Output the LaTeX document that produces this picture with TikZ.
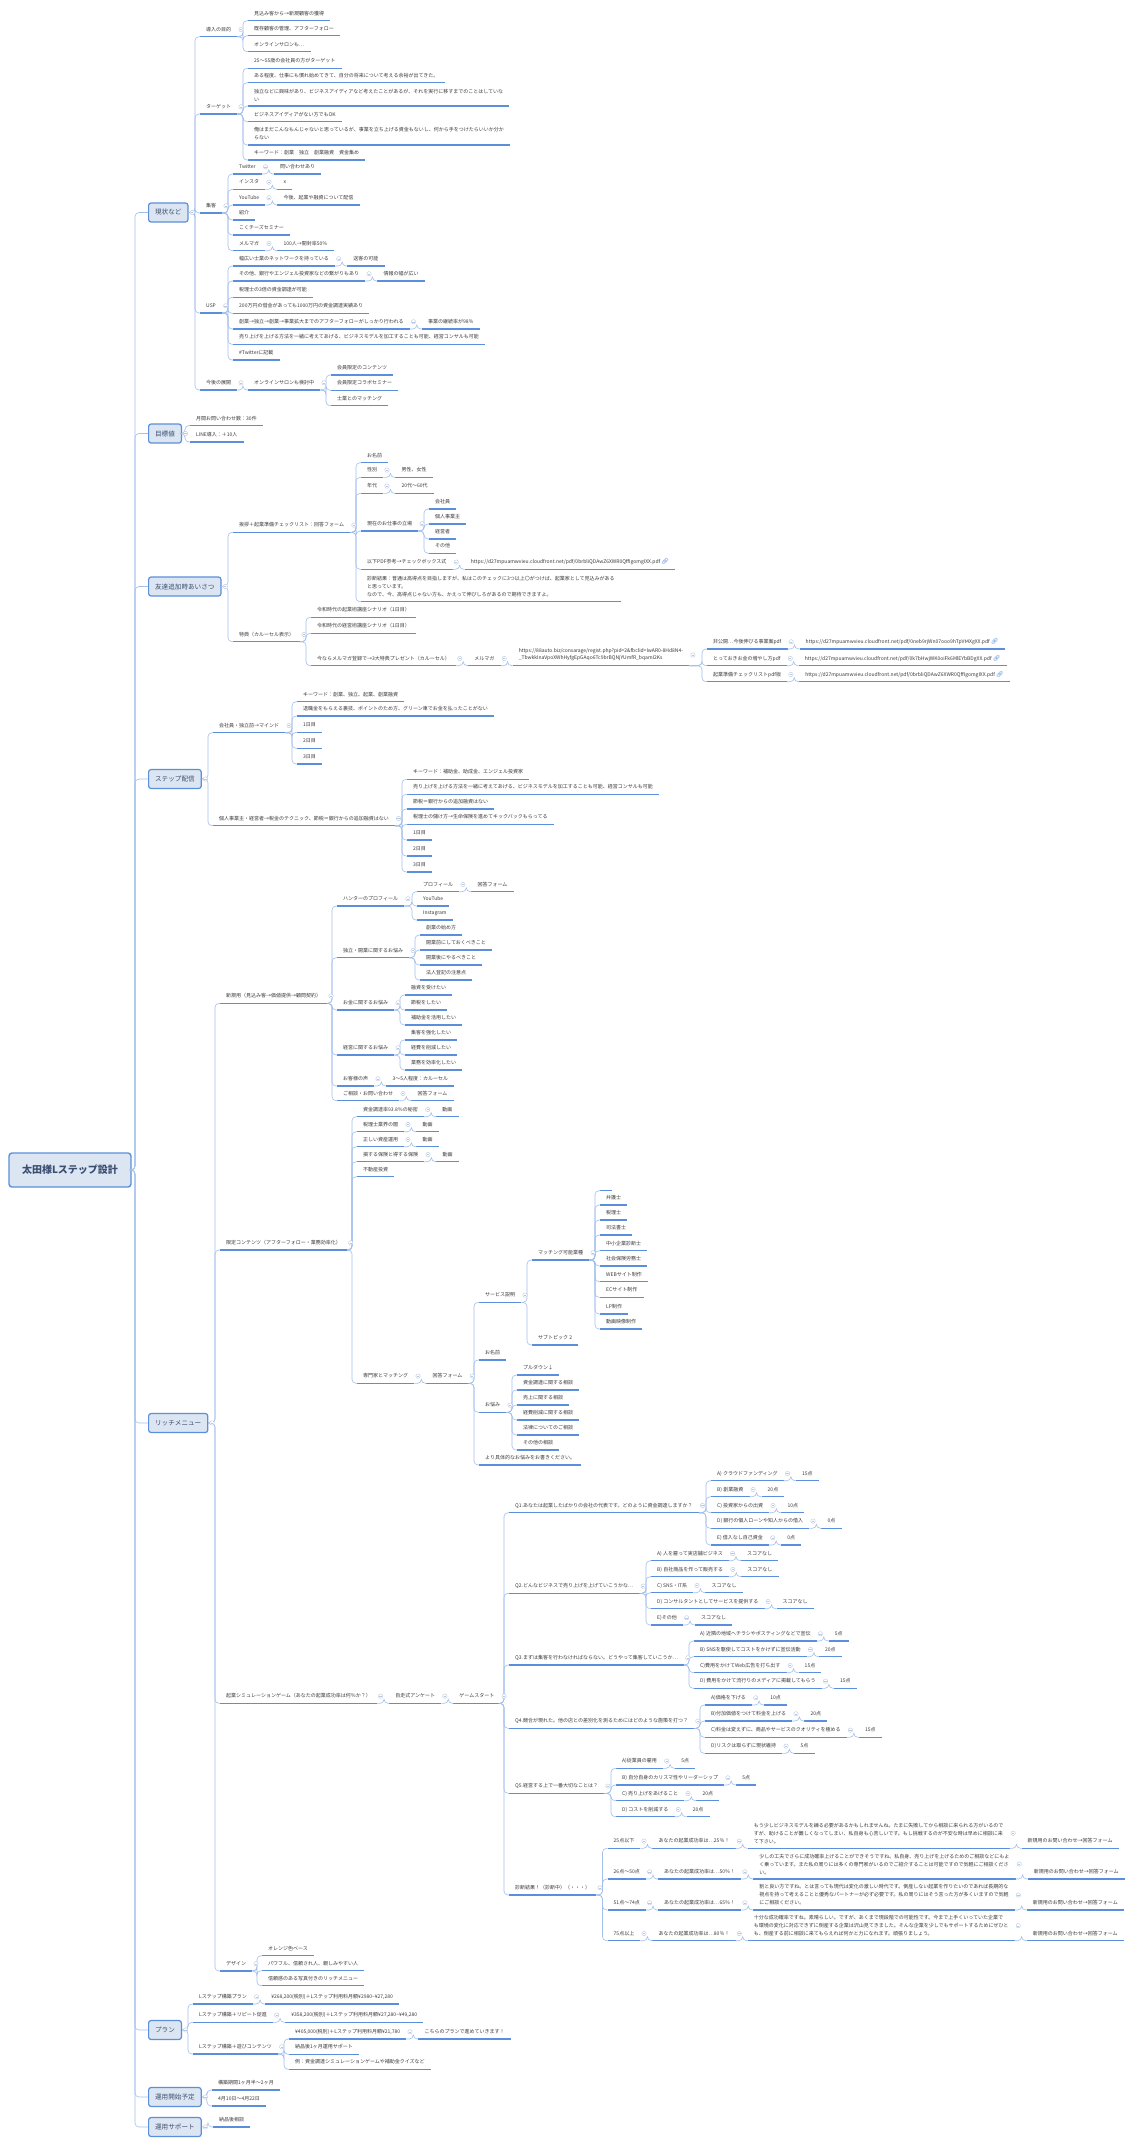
\documentclass[tikz,border=0pt]{standalone}
\usepackage{fontspec}
\setmainfont{Noto Sans CJK JP}
\newfontfamily\emojifont{Noto Emoji}

\definecolor{lineblue}{HTML}{5B8FDB}
\definecolor{connblue}{HTML}{A3C0EC}
\definecolor{boxfill}{HTML}{DCE6F3}
\definecolor{boxline}{HTML}{5B8FDB}
\definecolor{boxtxt}{HTML}{3C4E70}
\definecolor{txtgray}{HTML}{3A3A3A}
\definecolor{foldgray}{HTML}{B9C8E2}
\definecolor{linkblue}{HTML}{4A86E0}

\tikzset{
  rootbox/.style={draw=boxline, line width=1.4pt, fill=boxfill, rounded corners=3pt,
    minimum width=122pt, minimum height=34pt, font=\fontsize{10}{12}\selectfont\bfseries, text=boxtxt},
  mainbox/.style={draw=boxline, line width=1.2pt, fill=boxfill, rounded corners=2.5pt, anchor=west,
    minimum height=19pt, inner xsep=6.5pt, font=\fontsize{6.6}{8}\selectfont, text=boxtxt},
  underl/.style={draw=lineblue, line width=1.1pt},
  topic/.style={anchor=south west, inner xsep=6pt, inner ysep=4.5pt, text height=4.3pt, text depth=0.7pt,
    font=\fontsize{5}{8}\selectfont, text=txtgray,
    append after command={(\tikzlastnode.south west) edge[underl] (\tikzlastnode.south east)}},
  mtopic/.style={topic, text height=, text depth=, align=left},
  conn/.style={draw=connblue, line width=0.6pt, rounded corners=4pt},
  foldmark/.style={circle, draw=foldgray, fill=white, line width=0.4pt, minimum size=4.4pt, inner sep=0pt,
    path picture={\draw[foldgray, line width=0.4pt] ([xshift=-1.2pt]path picture bounding box.center)
      -- ([xshift=1.2pt]path picture bounding box.center);}},
}
% connector: parent anchor -> child anchor, spine #1pt before the child
\newcommand{\conn}[3][5]{\draw[conn] (#2) -| ([xshift=-#1pt]#3) -- (#3);}
\newcommand{\fold}[1]{\node[foldmark] (#1f) at ([xshift=3.6pt]#1.east) {};}
\newcommand{\linkicon}{{\emojifont\fontsize{6}{6}\selectfont\textcolor{linkblue}{\char"1F517}}}

\begin{document}
\begin{tikzpicture}[x=1pt,y=-1pt]
\fill[white] (0,0) rectangle (1131,2145);
\useasboundingbox (0,0) rectangle (1131,2145);

% root and main branches
\node[rootbox] (root) at (70,1170) {太田様Lステップ設計};
\node[mainbox] (m1) at (148,212.5) {現状など};
\node[mainbox] (m2) at (148,433.5) {目標値};
\node[mainbox] (m3) at (148,586.5) {友達追加時あいさつ};
\node[mainbox] (m4) at (148,779) {ステップ配信};
\node[mainbox] (m5) at (148,1423) {リッチメニュー};
\node[mainbox] (m6) at (148,2030) {プラン};
\node[mainbox] (m7) at (148,2097) {運用開始予定};
\node[mainbox] (m8) at (148,2127) {運用サポート};

% 現状など
\node[topic] (a1) at (200,36.7) {導入の目的};
\node[topic] (a2) at (200,114) {ターゲット};
\node[topic] (a3) at (200,213) {集客};
\node[topic] (a4) at (200,313) {USP};
\node[topic] (a5) at (200,390) {今後の展開};
\node[topic] (a11) at (248,20.7) {見込み客から→新規顧客の獲得};
\node[topic] (a12) at (248,35.7) {既存顧客の管理、アフターフォロー};
\node[topic] (a13) at (248,51.7) {オンラインサロンも…};
\node[topic] (a21) at (248,68.3) {25〜55歳の会社員の方がターゲット};
\node[topic] (a22) at (248,82.7) {ある程度、仕事にも慣れ始めてきて、自分の将来について考える余裕が出てきた。};
\node[mtopic] (a23) at (248,106) {独立などに興味があり、ビジネスアイディアなど考えたことがあるが、それを実行に移すまでのことはしていな\\い};
\node[topic] (a24) at (248,121.7) {ビジネスアイディアがない方でもOK};
\node[mtopic] (a25) at (248,145) {俺はまだこんなもんじゃないと思っているが、事業を立ち上げる資金もないし、何から手をつけたらいいか分か\\らない};
\node[topic] (a26) at (248,160) {キーワード：創業　独立　創業融資　資金集め};
\node[topic] (a31) at (233,174) {Twitter};
\node[topic] (a31c) at ([xshift=12pt]a31.south east) {問い合わせあり};
\node[topic] (a32) at (233,189.3) {インスタ};
\node[topic] (a32c) at ([xshift=12pt]a32.south east) {x};
\node[topic] (a33) at (233,205) {YouTube};
\node[topic] (a33c) at ([xshift=12pt]a33.south east) {今後、起業や融資について配信};
\node[topic] (a34) at (233,220) {紹介};
\node[topic] (a35) at (233,235) {こくチーズセミナー};
\node[topic] (a36) at (233,250.7) {メルマガ};
\node[topic] (a36c) at ([xshift=12pt]a36.south east) {100人→開封率50％};
\node[topic] (a41) at (233,266) {幅広い士業のネットワークを持っている};
\node[topic] (a41c) at ([xshift=12pt]a41.south east) {送客の可能};
\node[topic] (a42) at (233,281) {その他、銀行やエンジェル投資家などの繋がりもあり};
\node[topic] (a42c) at ([xshift=12pt]a42.south east) {情報の幅が広い};
\node[topic] (a43) at (233,297.3) {税理士の3倍の資金調達が可能};
\node[topic] (a44) at (233,313.3) {200万円の借金があっても1000万円の資金調達実績あり};
\node[topic] (a45) at (233,329) {創業→独立→創業→事業拡大までのアフターフォローがしっかり行われる};
\node[topic] (a45c) at ([xshift=12pt]a45.south east) {事業の継続率が98％};
\node[topic] (a46) at (233,344.3) {売り上げを上げる方法を一緒に考えてあげる、ビジネスモデルを加工することも可能、経営コンサルも可能};
\node[topic] (a47) at (233,360) {\#Twitterに記載};
\node[topic] (a51) at (248,390) {オンラインサロンも検討中};
\node[topic] (a511) at (331,375) {会員限定のコンテンツ};
\node[topic] (a512) at (331,390.3) {会員限定コラボセミナー};
\node[topic] (a513) at (331,405.7) {士業とのマッチング};

% 目標値
\node[topic] (b1) at (190,425.5) {月間お問い合わせ数：30件};
\node[topic] (b2) at (190,442) {LINE導入：＋10人};

% 友達追加時あいさつ
\node[topic] (c1) at (233,532.3) {挨拶＋起業準備チェックリスト：回答フォーム};
\node[topic] (c2) at (233,641.7) {特典（カルーセル表示）};
\node[topic] (c11) at (361,462.7) {お名前};
\node[topic] (c12) at (361,477.3) {性別};
\node[topic] (c12c) at ([xshift=12pt]c12.south east) {男性、女性};
\node[topic] (c13) at (361,493.3) {年代};
\node[topic] (c13c) at ([xshift=12pt]c13.south east) {20代〜60代};
\node[topic] (c14) at (361,531) {現在のお仕事の立場};
\node[topic] (c141) at (429,509) {会社員};
\node[topic] (c142) at (429,524) {個人事業主};
\node[topic] (c143) at (429,539) {経営者};
\node[topic] (c144) at (429,553.3) {その他};
\node[topic] (c15) at (361,569.3) {以下PDF参考→チェックボックス式};
\node[topic] (c15c) at ([xshift=12pt]c15.south east) {https://d27mpuamwvieu.cloudfront.net/pdf/0brbliQDAwZ6XWR0QffIgomgIXX.pdf\ \linkicon};
\node[mtopic] (c16) at (361,601.7) {診断結果：普通は高得点を目指しますが、私はこのチェックに3つ以上〇がつけば、起業家として見込みがある\\と思っています。\\なので、今、高得点じゃない方も、かえって伸びしろがあるので期待できますよ。};
\node[topic] (c21) at (311,617.3) {令和時代の起業術講座シナリオ（1日目）};
\node[topic] (c22) at (311,633.3) {令和時代の経営術講座シナリオ（1日目）};
\node[topic] (c23) at (311,665.7) {今ならメルマガ登録で→3大特典プレゼント（カルーセル）};
\node[topic] (c23c) at ([xshift=12pt]c23.south east) {メルマガ};
\node[mtopic, font=\fontsize{5}{6.8}\selectfont] (c23u) at ([xshift=12pt]c23c.south east) {https://88auto.biz/consarage/regist.php?pid=2\&fbclid=IwAR0-8Hd8N4-\\\_TbwkkInaVpoXWhHyfgEpGAqo6Tc9brBQNjYUmfR\_bqamI2Ks};
\node[topic] (c231) at (707,649) {非公開…今後伸びる事業案pdf};
\node[topic] (c231c) at ([xshift=12pt]c231.south east) {https://d27mpuamwvieu.cloudfront.net/pdf/0neb9rjWn07ooo9hTpVt4XgXX.pdf\ \linkicon};
\node[topic] (c232) at (707,665.7) {とっておきお金の増やし方pdf};
\node[topic] (c232c) at ([xshift=12pt]c232.south east) {https://d27mpuamwvieu.cloudfront.net/pdf/0k7bHwjWK0oiFk6MlEYbBDgXX.pdf\ \linkicon};
\node[topic] (c233) at (707,681.7) {起業準備チェックリストpdf版};
\node[topic] (c233c) at ([xshift=12pt]c233.south east) {https://d27mpuamwvieu.cloudfront.net/pdf/0brbliQDAwZ6XWR0QffIgomgIXX.pdf\ \linkicon};

% ステップ配信
\node[topic] (d1) at (213,732.7) {会社員・独立前→マインド};
\node[topic] (d2) at (213,825.7) {個人事業主・経営者→税金のテクニック、節税＝銀行からの追加融資はない};
\node[topic] (d11) at (297,701.7) {キーワード：創業、独立、起業、創業融資};
\node[topic] (d12) at (297,716) {退職金をもらえる裏技、ポイントのため方、グリーン車でお金を払ったことがない};
\node[topic] (d13) at (297,732.3) {1日目};
\node[topic] (d14) at (297,748.3) {2日目};
\node[topic] (d15) at (297,764) {3日目};
\node[topic] (d21) at (407,779.3) {キーワード：補助金、助成金、エンジェル投資家};
\node[topic] (d22) at (407,794.3) {売り上げを上げる方法を一緒に考えてあげる、ビジネスモデルを加工することも可能、経営コンサルも可能};
\node[topic] (d23) at (407,809) {節税＝銀行からの追加融資はない};
\node[topic] (d24) at (407,824.3) {税理士の儲け方→生命保険を進めてキックバックもらってる};
\node[topic] (d25) at (407,840) {1日目};
\node[topic] (d26) at (407,856) {2日目};
\node[topic] (d27) at (407,872) {3日目};

% リッチメニュー
\node[topic] (e1) at (220,1003.3) {新規用（見込み客→価値提供→顧問契約）};
\node[topic] (e2) at (220,1250) {限定コンテンツ（アフターフォロー・業務効率化）};
\node[topic] (e3) at (220,1703.3) {起業シミュレーションゲーム（あなたの起業成功率は何％か？）};
\node[topic] (e4) at (220,1971) {デザイン};
\node[topic] (e11) at (337,906) {ハンターのプロフィール};
\node[topic] (e111) at (417,891.7) {プロフィール};
\node[topic] (e111c) at ([xshift=12pt]e111.south east) {回答フォーム};
\node[topic] (e112) at (417,906) {YouTube};
\node[topic] (e113) at (417,920) {Instagram};
\node[topic] (e12) at (337,957.7) {独立・開業に関するお悩み};
\node[topic] (e121) at (420,935) {創業の始め方};
\node[topic] (e122) at (420,950) {開業前にしておくべきこと};
\node[topic] (e123) at (420,965) {開業後にやるべきこと};
\node[topic] (e124) at (420,980) {法人登記の注意点};
\node[topic] (e13) at (337,1010) {お金に関するお悩み};
\node[topic] (e131) at (405,995) {融資を受けたい};
\node[topic] (e132) at (405,1010) {節税をしたい};
\node[topic] (e133) at (405,1025) {補助金を活用したい};
\node[topic] (e14) at (337,1055) {経営に関するお悩み};
\node[topic] (e141) at (405,1040) {集客を強化したい};
\node[topic] (e142) at (405,1055) {経費を削減したい};
\node[topic] (e143) at (405,1070) {業務を効率化したい};
\node[topic] (e15) at (337,1086) {お客様の声};
\node[topic] (e15c) at ([xshift=12pt]e15.south east) {3〜5人程度：カルーセル};
\node[topic] (e16) at (337,1100.7) {ご相談・お問い合わせ};
\node[topic] (e16c) at ([xshift=12pt]e16.south east) {回答フォーム};
\node[topic] (e21) at (357,1116.7) {資金調達率93.8％の秘密};
\node[topic] (e21c) at ([xshift=12pt]e21.south east) {動画};
\node[topic] (e22) at (357,1131.7) {税理士業界の闇};
\node[topic] (e22c) at ([xshift=12pt]e22.south east) {動画};
\node[topic] (e23) at (357,1146.7) {正しい資産運用};
\node[topic] (e23c) at ([xshift=12pt]e23.south east) {動画};
\node[topic] (e24) at (357,1161.7) {損する保険と得する保険};
\node[topic] (e24c) at ([xshift=12pt]e24.south east) {動画};
\node[topic] (e25) at (357,1176.7) {不動産投資};
\node[topic] (e26) at (357,1383.3) {専門家とマッチング};
\node[topic] (e26c) at ([xshift=12pt]e26.south east) {回答フォーム};
\node[topic] (e261) at (479,1302.3) {サービス説明};
\node[topic] (e2611) at (532,1260) {マッチング可能業種};
\node[topic] (z0) at (600,1190.7) {};
\node[topic] (z1) at (600,1205) {弁護士};
\node[topic] (z2) at (600,1220) {税理士};
\node[topic] (z3) at (600,1235) {司法書士};
\node[topic] (z4) at (600,1250.7) {中小企業診断士};
\node[topic] (z5) at (600,1266) {社会保険労務士};
\node[topic] (z6) at (600,1281.7) {WEBサイト制作};
\node[topic] (z7) at (600,1297.3) {ECサイト制作};
\node[topic] (z8) at (600,1314) {LP制作};
\node[topic] (z9) at (600,1329) {動画映像制作};
\node[topic] (e2612) at (532,1345) {サブトピック 2};
\node[topic] (e262) at (479,1360) {お名前};
\node[topic] (e263) at (479,1412.3) {お悩み};
\node[topic] (p1) at (517,1375) {プルダウン↓};
\node[topic] (p2) at (517,1390) {資金調達に関する相談};
\node[topic] (p3) at (517,1405) {売上に関する相談};
\node[topic] (p4) at (517,1420) {経費削減に関する相談};
\node[topic] (p5) at (517,1435) {法律についてのご相談};
\node[topic] (p6) at (517,1450) {その他の相談};
\node[topic] (e264) at (479,1465) {より具体的なお悩みをお書きください。};

% 起業シミュレーションゲーム
\node[topic] (e31) at ([xshift=12pt]e3.south east) {自走式アンケート};
\node[topic] (e32) at ([xshift=12pt]e31.south east) {ゲームスタート};
\node[topic] (q1) at (509,1512.7) {Q1.あなたは起業したばかりの会社の代表です。どのように資金調達しますか？};
\node[topic] (q2) at (509,1593.3) {Q2.どんなビジネスで売り上げを上げていこうかな…};
\node[topic] (q3) at (509,1665) {Q3.まずは集客を行わなければならない。どうやって集客していこうか…};
\node[topic] (q4) at (509,1728.3) {Q4.競合が現れた。他の店との差別化を測るためにはどのような施策を打つ？};
\node[topic] (q5) at (509,1793.3) {Q5.経営する上で一番大切なことは？};
\node[topic] (q6) at (509,1895) {診断結果！（診断中）（・・・）};
\node[topic] (q1a) at (711,1480.7) {A) クラウドファンディング};
\node[topic] (q1b) at (711,1496.7) {B) 創業融資};
\node[topic] (q1c) at (711,1512.7) {C) 投資家からの出資};
\node[topic] (q1d) at (711,1528.3) {D) 銀行の個人ローンや知人からの借入};
\node[topic] (q1e) at (711,1545) {E) 借入なし自己資金};
\node[topic] (q2a) at (651,1560.7) {A) 人を雇って実店舗ビジネス};
\node[topic] (q2b) at (651,1576.7) {B) 自社商品を作って販売する};
\node[topic] (q2c) at (651,1592.7) {C) SNS・IT系};
\node[topic] (q2d) at (651,1608.7) {D) コンサルタントとしてサービスを提供する};
\node[topic] (q2e) at (651,1625) {E)その他};
\node[topic] (q3a) at (694,1641) {A) 近隣の地域へチラシやポスティングなどで宣伝};
\node[topic] (q3b) at (694,1656.7) {B) SNSを駆使してコストをかけずに宣伝活動};
\node[topic] (q3c) at (694,1672.7) {C)費用をかけてWeb広告を打ち出す};
\node[topic] (q3d) at (694,1688.3) {D) 費用をかけて流行りのメディアに掲載してもらう};
\node[topic] (q4a) at (705,1705) {A)価格を下げる};
\node[topic] (q4b) at (705,1721) {B)付加価値をつけて料金を上げる};
\node[topic] (q4c) at (705,1737.3) {C)料金は変えずに、商品やサービスのクオリティを極める};
\node[topic] (q4d) at (705,1753.3) {D)リスクは取らずに現状維持};
\node[topic] (q5a) at (616,1768.3) {A)従業員の雇用};
\node[topic] (q5b) at (616,1785) {B) 自分自身のカリスマ性やリーダーシップ};
\node[topic] (q5c) at (616,1800.7) {C) 売り上げをあげること};
\node[topic] (q5d) at (616,1816.7) {D) コストを削減する};
\foreach \n/\s in {q1a/15点,q1b/20点,q1c/10点,q1d/0点,q1e/0点,
    q2a/スコアなし,q2b/スコアなし,q2c/スコアなし,q2d/スコアなし,q2e/スコアなし,
    q3a/5点,q3b/20点,q3c/15点,q3d/15点,q4a/10点,q4b/20点,q4c/15点,q4d/5点,
    q5a/5点,q5b/5点,q5c/20点,q5d/20点}
  \node[topic] (\n c) at ([xshift=12pt]\n.south east) {\s};
\node[topic] (r1) at (607.5,1848.3) {25点以下};
\node[topic] (r2) at (607.5,1879) {26点〜50点};
\node[topic] (r3) at (607.5,1910) {51点〜74点};
\node[topic] (r4) at (607.5,1940.7) {75点以上};
\node[topic] (r1t) at ([xshift=12pt]r1.south east) {あなたの起業成功率は…25％！};
\node[topic] (r2t) at ([xshift=12pt]r2.south east) {あなたの起業成功率は…50％！};
\node[topic] (r3t) at ([xshift=12pt]r3.south east) {あなたの起業成功率は…65％！};
\node[topic] (r4t) at ([xshift=12pt]r4.south east) {あなたの起業成功率は…80％！};
\node[mtopic] (r1d) at ([xshift=12pt]r1t.south east) {もう少しビジネスモデルを練る必要があるかもしれませんね。たまに失敗してから相談に来られる方がいるので\\すが、助けることが難しくなってしまい、私自身も心苦しいです。もし挑戦するのが不安な時は早めに相談に来\\て下さい。};
\node[mtopic] (r2d) at ([xshift=12pt]r2t.south east) {少しの工夫でさらに成功確率上げることができそうですね。私自身、売り上げを上げるためのご相談などにもよ\\く乗っています。また私の周りには多くの専門家がいるのでご紹介することは可能ですので気軽にご相談くださ\\い。};
\node[mtopic] (r3d) at ([xshift=12pt]r3t.south east) {割と良い方ですね。とは言っても現代は変化の激しい時代です。倒産しない起業を作りたいのであれば長期的な\\視点を持って考えることと優秀なパートナーが必ず必要です。私の周りにはそう言った方が多くいますので気軽\\にご相談ください。};
\node[mtopic] (r4d) at ([xshift=12pt]r4t.south east) {十分な成功確率ですね。素晴らしい。ですが、あくまで現段階での可能性です。今まで上手くいっていた企業で\\も環境の変化に対応できずに倒産する企業は沢山見てきました。そんな企業を少しでもサポートするためにぜひと\\も、倒産する前に相談に来てもらえれば何かと力になれます。頑張りましょう。};
\foreach \n in {r1,r2,r3,r4}
  \node[topic] (\n f) at ([xshift=12pt]\n d.south east) {新規用のお問い合わせ→回答フォーム};

% デザイン
\node[topic] (f1) at (262,1955.7) {オレンジ色ベース};
\node[topic] (f2) at (262,1970.7) {パワフル、信頼され人、親しみやすい人};
\node[topic] (f3) at (262,1985.7) {信頼感のある写真付きのリッチメニュー};

% プラン
\node[topic] (g1) at (193,2004) {Lステップ構築プラン};
\node[topic] (g1c) at ([xshift=12pt]g1.south east) {¥268,200(税別)＋Lステップ利用料月額¥2980\textasciitilde¥27,280};
\node[topic] (g2) at (193,2022.3) {Lステップ構築＋リピート促進};
\node[topic] (g2c) at ([xshift=12pt]g2.south east) {¥358,200(税別)＋Lステップ利用料月額¥27,280\textasciitilde¥49,280};
\node[topic] (g3) at (193,2054) {Lステップ構築＋遊びコンテンツ};
\node[topic] (g31) at (289,2039) {¥405,000(税別)＋Lステップ利用料月額¥21,780};
\node[topic] (g31c) at ([xshift=12pt]g31.south east) {こちらのプランで進めていきます！};
\node[topic] (g32) at (289,2054.3) {納品後1ヶ月運用サポート};
\node[topic] (g33) at (289,2069.3) {例：資金調達シミュレーションゲームや補助金クイズなど};

% 運用開始予定 / 運用サポート
\node[topic] (h1) at (212,2090) {構築期間1ヶ月半〜2ヶ月};
\node[topic] (h2) at (212,2106) {4月10日〜4月22日};
\node[topic] (i1) at (213,2127) {納品後相談};

% connectors
\foreach \m in {m1,m2,m3,m4,m5,m6,m7,m8} {\conn[13]{root.east}{\m.west}}
\foreach \c in {a1,a2,a3,a4,a5} {\conn{m1.east}{\c.south west}}
\foreach \c in {a11,a12,a13} {\conn{a1.south east}{\c.south west}}
\foreach \c in {a21,a22,a23,a24,a25,a26} {\conn{a2.south east}{\c.south west}}
\foreach \c in {a31,a32,a33,a34,a35,a36} {\conn{a3.south east}{\c.south west}}
\foreach \c in {a41,a42,a43,a44,a45,a46,a47} {\conn{a4.south east}{\c.south west}}
\foreach \c in {a511,a512,a513} {\conn{a51.south east}{\c.south west}}
\foreach \p in {a31,a32,a33,a36,a41,a42,a45,c12,c13,c15,c231,c232,c233,e111,e15,e16,e21,e22,e23,e24,g1,g2,g31}
  {\conn{\p.south east}{\p c.south west}}
\conn{a5.south east}{a51.south west}
\foreach \c in {b1,b2} {\conn{m2.east}{\c.south west}}
\foreach \c in {c1,c2} {\conn{m3.east}{\c.south west}}
\foreach \c in {c11,c12,c13,c14,c15,c16} {\conn{c1.south east}{\c.south west}}
\foreach \c in {c141,c142,c143,c144} {\conn{c14.south east}{\c.south west}}
\foreach \c in {c21,c22,c23} {\conn{c2.south east}{\c.south west}}
\conn{c23.south east}{c23c.south west}
\conn{c23c.south east}{c23u.south west}
\foreach \c in {c231,c232,c233} {\conn{c23u.south east}{\c.south west}}
\foreach \c in {d1,d2} {\conn{m4.east}{\c.south west}}
\foreach \c in {d11,d12,d13,d14,d15} {\conn{d1.south east}{\c.south west}}
\foreach \c in {d21,d22,d23,d24,d25,d26,d27} {\conn{d2.south east}{\c.south west}}
\foreach \c in {e1,e2,e3,e4} {\conn{m5.east}{\c.south west}}
\foreach \c in {e11,e12,e13,e14,e15,e16} {\conn{e1.south east}{\c.south west}}
\foreach \c in {e111,e112,e113} {\conn{e11.south east}{\c.south west}}
\foreach \c in {e121,e122,e123,e124} {\conn{e12.south east}{\c.south west}}
\foreach \c in {e131,e132,e133} {\conn{e13.south east}{\c.south west}}
\foreach \c in {e141,e142,e143} {\conn{e14.south east}{\c.south west}}
\foreach \c in {e21,e22,e23,e24,e25,e26} {\conn{e2.south east}{\c.south west}}
\conn{e26.south east}{e26c.south west}
\foreach \c in {e261,e262,e263,e264} {\conn{e26c.south east}{\c.south west}}
\foreach \c in {e2611,e2612} {\conn{e261.south east}{\c.south west}}
\foreach \c in {z0,z1,z2,z3,z4,z5,z6,z7,z8,z9} {\conn{e2611.south east}{\c.south west}}
\foreach \c in {p1,p2,p3,p4,p5,p6} {\conn{e263.south east}{\c.south west}}
\conn{e3.south east}{e31.south west}
\conn{e31.south east}{e32.south west}
\foreach \c in {q1,q2,q3,q4,q5,q6} {\conn{e32.south east}{\c.south west}}
\foreach \c in {q1a,q1b,q1c,q1d,q1e} {\conn{q1.south east}{\c.south west}}
\foreach \c in {q2a,q2b,q2c,q2d,q2e} {\conn{q2.south east}{\c.south west}}
\foreach \c in {q3a,q3b,q3c,q3d} {\conn{q3.south east}{\c.south west}}
\foreach \c in {q4a,q4b,q4c,q4d} {\conn{q4.south east}{\c.south west}}
\foreach \c in {q5a,q5b,q5c,q5d} {\conn{q5.south east}{\c.south west}}
\foreach \p in {q1a,q1b,q1c,q1d,q1e,q2a,q2b,q2c,q2d,q2e,q3a,q3b,q3c,q3d,q4a,q4b,q4c,q4d,q5a,q5b,q5c,q5d}
  {\conn{\p.south east}{\p c.south west}}
\foreach \c in {r1,r2,r3,r4} {\conn{q6.south east}{\c.south west}}
\foreach \r in {r1,r2,r3,r4} {
  \conn{\r.south east}{\r t.south west}
  \conn{\r t.south east}{\r d.south west}
  \conn{\r d.south east}{\r f.south west}
}
\foreach \c in {f1,f2,f3} {\conn{e4.south east}{\c.south west}}
\foreach \c in {g1,g2,g3} {\conn{m6.east}{\c.south west}}
\foreach \c in {g31,g32,g33} {\conn{g3.south east}{\c.south west}}
\foreach \c in {h1,h2} {\conn{m7.east}{\c.south west}}
\conn{m8.east}{i1.south west}

% collapse marks
\foreach \n in {m1,m2,m3,m4,m5,m6,m7,m8,a1,a2,a3,a31,a32,a33,a36,a4,a41,a42,a45,a5,a51,
    c1,c12,c13,c14,c15,c2,c23,c23c,c23u,c231,c232,c233,d1,d2,
    e1,e11,e111,e12,e13,e14,e15,e16,e2,e21,e22,e23,e24,e26,e26c,e261,e2611,e263,
    e3,e31,e32,q1,q2,q3,q4,q5,q6,q1a,q1b,q1c,q1d,q1e,q2a,q2b,q2c,q2d,q2e,
    q3a,q3b,q3c,q3d,q4a,q4b,q4c,q4d,q5a,q5b,q5c,q5d,r1,r2,r3,r4,r1t,r2t,r3t,r4t,
    r1d,r2d,r3d,r4d,e4,g1,g2,g3,g31}
  {\fold{\n}}
\end{tikzpicture}
\end{document}
